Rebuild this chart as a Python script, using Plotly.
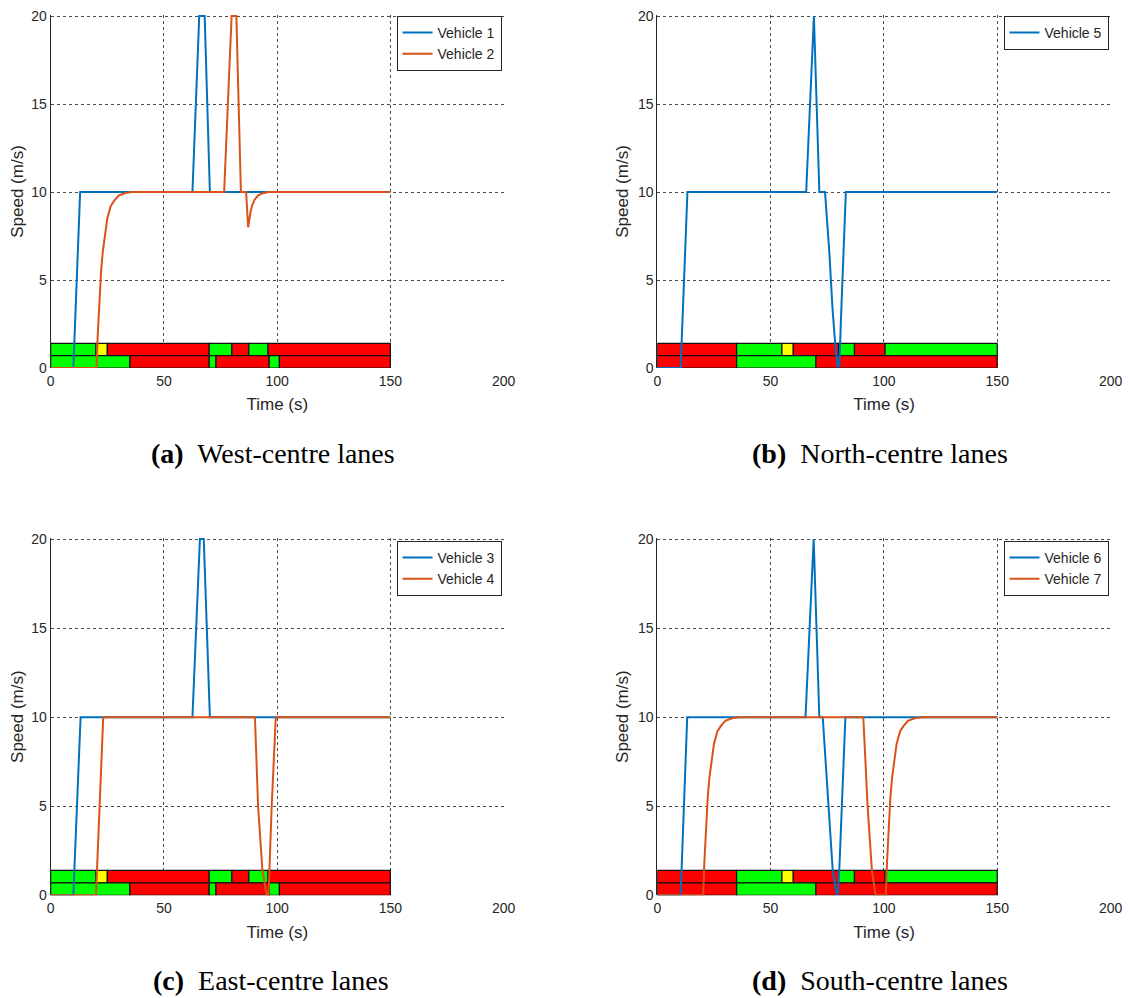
import plotly.graph_objects as go
import numpy as np

# ---------------- signal timing (s) : phase boundaries + phase per lane -------------
AC_TOP_EDGES = [0, 20, 25, 70, 80, 87.5, 96, 150]
AC_TOP_PHASES = ["G", "Y", "R", "G", "R", "G", "R"]
AC_BOT_EDGES = [0, 35, 70, 73, 96.5, 101, 150]
AC_BOT_PHASES = ["G", "R", "G", "R", "G", "R"]
BD_TOP_EDGES = [0, 35, 55, 60, 80, 87, 100.5, 150]
BD_TOP_PHASES = ["R", "G", "Y", "R", "G", "R", "G"]
BD_BOT_EDGES = [0, 35, 70, 150]
BD_BOT_PHASES = ["R", "G", "R"]

# ---------------- vehicle speed profiles (time s, speed m/s) ----------------
V1_T = [0, 10, 13, 62.6, 65.6, 68, 70.3, 150]
V1_V = [0, 0, 10, 10, 20, 20, 10, 10]
V2_T = [0, 20.25, 20.75, 21.25, 21.75, 22.25, 23, 24, 25, 26.5, 28, 30, 33, 36,
        76.6, 79.9, 82, 84, 86.3, 87.2, 87.7, 88.3, 89, 90, 91.5, 93, 96, 150]
V2_V = [0, 0, 1.8, 3.3, 4.5, 5.5, 6.6, 7.7, 8.5, 9.2, 9.5, 9.8, 9.94, 10,
        10, 20, 20, 10, 10, 8.0, 8.5, 8.9, 9.25, 9.55, 9.8, 9.9, 10, 10]
V3_T = [0, 10, 13.2, 62.6, 65.9, 67.6, 70.3, 150]
V3_V = [0, 0, 10, 10, 20, 20, 10, 10]
V4_T = [0, 20, 23.2, 90.2, 91.6, 93.5, 95.4, 96.2, 97.6, 99.4, 150]
V4_V = [0, 0, 10, 10, 5, 1.4, 0, 0, 5, 10, 10]
V5_T = [0, 10.3, 13.3, 65.7, 69.1, 71.5, 74, 75.9, 77.3, 78.6, 79.6, 80.3, 81.4, 83.2, 150]
V5_V = [0, 0, 10, 10, 20, 10, 10, 6.6, 3.4, 1.2, 0.1, 0.1, 4.0, 10, 10]
V6_T = [0, 10.3, 13.2, 65.4, 69, 71.5, 73, 75.6, 77.4, 78.8, 79.6, 80.3, 81.4, 83, 150]
V6_V = [0, 0, 10, 10, 20, 10, 10, 5, 1.4, 0.3, 0, 1.4, 5, 10, 10]
V7_T = [0, 20.25, 20.75, 21.25, 21.75, 22.25, 23, 24, 25, 26.5, 28, 30, 33, 36,
        90.9, 92.8, 94.7, 96.3, 100.85, 101.35, 101.85, 102.35, 102.85, 103.6,
        104.6, 105.6, 107.1, 108.6, 110.6, 113.6, 117, 150]
V7_V = [0, 0, 1.8, 3.3, 4.5, 5.5, 6.6, 7.7, 8.5, 9.2, 9.5, 9.8, 9.94, 10,
        10, 5, 1.4, 0, 0, 1.8, 3.3, 4.5, 5.5, 6.6,
        7.7, 8.5, 9.2, 9.5, 9.8, 9.94, 10, 10]

X_TICKS = [0, 50, 100, 150, 200]
Y_TICKS = [0, 5, 10, 15, 20]

# ---------------- styles ----------------
PHASE_COLOURS = {"G": "#00FF00", "Y": "#FFFF00", "R": "#FF0000"}
BLUE = "#0072BD"
ORANGE = "#D95319"
TXT = "#262626"
GRID = "#4a4a4a"
SANS = "Liberation Sans, Arial, sans-serif"
SERIF = "Liberation Serif, serif"
LANE_Y = [1.05, 0.35]
LANE_H = 0.7
PAGE_OFFSET = 8            # default body margin of the html page
W, H = 1132 - PAGE_OFFSET, 998 - PAGE_OFFSET

def px_x(p):
    return (p - PAGE_OFFSET) / W

def px_y(p):
    return 1 - (p - PAGE_OFFSET) / H

panels = [
    dict(xd=(50.7, 504), yd=(15, 368),
         lanes=[(AC_TOP_EDGES, AC_TOP_PHASES), (AC_BOT_EDGES, AC_BOT_PHASES)],
         veh=[("Vehicle 1", V1_T, V1_V, BLUE), ("Vehicle 2", V2_T, V2_V, ORANGE)],
         cap=("(a)", "West-centre lanes"), capxy=(273, 453), legtop=16),
    dict(xd=(657.3, 1111), yd=(15, 368),
         lanes=[(BD_TOP_EDGES, BD_TOP_PHASES), (BD_BOT_EDGES, BD_BOT_PHASES)],
         veh=[("Vehicle 5", V5_T, V5_V, BLUE)],
         cap=("(b)", "North-centre lanes"), capxy=(880, 453), legtop=16),
    dict(xd=(50.7, 504), yd=(538, 895.3),
         lanes=[(AC_TOP_EDGES, AC_TOP_PHASES), (AC_BOT_EDGES, AC_BOT_PHASES)],
         veh=[("Vehicle 3", V3_T, V3_V, BLUE), ("Vehicle 4", V4_T, V4_V, ORANGE)],
         cap=("(c)", "East-centre lanes"), capxy=(271, 980), legtop=541),
    dict(xd=(657.3, 1111), yd=(538, 895.3),
         lanes=[(BD_TOP_EDGES, BD_TOP_PHASES), (BD_BOT_EDGES, BD_BOT_PHASES)],
         veh=[("Vehicle 6", V6_T, V6_V, BLUE), ("Vehicle 7", V7_T, V7_V, ORANGE)],
         cap=("(d)", "South-centre lanes"), capxy=(880, 980), legtop=541),
]

fig = go.Figure()
layout = dict(
    width=W, height=H, margin=dict(l=0, r=0, t=0, b=0, autoexpand=False),
    paper_bgcolor="white", plot_bgcolor="rgba(0,0,0,0)",
    barmode="overlay", showlegend=True, annotations=[],
    font=dict(family=SANS, color=TXT),
)

for i, p in enumerate(panels, start=1):
    sx = "" if i == 1 else str(i)
    xref, yref = "x" + sx, "y" + sx
    leg = "legend" + sx
    # signal bars first (below lines)
    for (edges, phases), ly in zip(p["lanes"], LANE_Y):
        edges = np.array(edges, dtype=float)
        fig.add_trace(go.Bar(
            orientation="h", base=edges[:-1], x=np.diff(edges),
            y=[ly] * len(phases), width=LANE_H,
            marker=dict(color=[PHASE_COLOURS[c] for c in phases],
                        line=dict(color="#111111", width=1.2)),
            xaxis=xref, yaxis=yref, showlegend=False, hoverinfo="skip"))
    for name, t, v, col in p["veh"]:
        fig.add_trace(go.Scatter(
            x=t, y=v, mode="lines", name=name, line=dict(color=col, width=2),
            xaxis=xref, yaxis=yref, legend=leg))
    x0, x1 = p["xd"]
    y0, y1 = p["yd"]
    layout["xaxis" + sx] = dict(
        domain=[px_x(x0), px_x(x1)], range=[0, 200.2], tickvals=X_TICKS,
        anchor=yref, showgrid=True, gridcolor=GRID, griddash="3px,3px", gridwidth=1,
        zeroline=False, showline=False, ticks="", automargin=False,
        ticklabelstandoff=3, ticklabeloverflow="allow",
        tickfont=dict(size=14, color=TXT, family=SANS),
        title=dict(text="Time (s)", font=dict(size=17, color=TXT, family=SANS), standoff=10))
    layout["yaxis" + sx] = dict(
        domain=[px_y(y1), px_y(y0)], range=[0, 20.06], tickvals=Y_TICKS,
        anchor=xref, showgrid=True, gridcolor=GRID, griddash="3px,3px", gridwidth=1,
        zeroline=False, showline=True, linecolor=TXT, linewidth=1, ticks="",
        automargin=False, ticklabeloverflow="allow",
        tickfont=dict(size=14, color=TXT, family=SANS),
        title=dict(text="Speed (m/s)", font=dict(size=17, color=TXT, family=SANS), standoff=4))
    layout[leg] = dict(
        x=px_x(x1 - 2.5), y=px_y(p["legtop"]), xanchor="right", yanchor="top",
        bgcolor="white", bordercolor=TXT, borderwidth=1,
        font=dict(size=14, color=TXT, family=SANS), itemwidth=30,
        tracegroupgap=0)
    cx, cy = p["capxy"]
    layout["annotations"].append(dict(
        x=px_x(cx), y=px_y(cy), xref="paper", yref="paper", showarrow=False,
        xanchor="center", yanchor="middle",
        text="<b>%s</b>  %s" % p["cap"],
        font=dict(size=28, family=SERIF, color="black")))

fig.update_layout(**layout)
fig.write_html("out.html")
